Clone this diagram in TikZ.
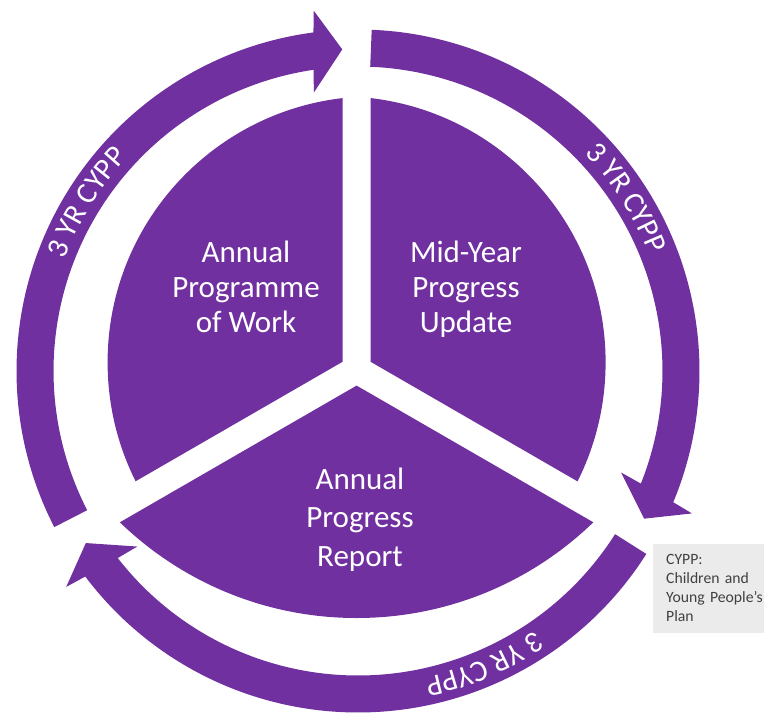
\documentclass[tikz,border=0pt]{standalone}
\usepackage{fontspec}
\newfontfamily\carl{Carlito}
\usetikzlibrary{decorations.text}
\definecolor{cpurple}{HTML}{7030A0}
\definecolor{boxgray}{HTML}{EBEBEB}
\definecolor{boxtext}{HTML}{404040}
\begin{document}
\begin{tikzpicture}[x=1pt,y=-1pt,
  sectortext/.style={text=white, align=center, font=\carl\fontsize{31}{35}\selectfont},
  ringband/.style={fill=cpurple},
  sectorfill/.style={fill=cpurple},
  ringtext/.style={decorate, decoration={text along path, text align=center, text color=white,
      text={|\carl\fontsize{30}{30}\selectfont|3 YR CYPP}}},
  notebox/.style={fill=boxgray, anchor=north west, text=boxtext, align=left,
      text width=100pt, inner xsep=13pt, inner ysep=10.5pt, font=\carl\fontsize{15.7}{19}\selectfont}
]
\useasboundingbox (0,0) rectangle (764,713);

% --- pie sectors ---
\begin{scope}
  \clip (342.7,361.7) -- (342.7,-50) -- (-50,-50) -- (-50,588.4) -- cycle;
  \fill[sectorfill] (373.6,362.3) circle[radius=266];
\end{scope}
\begin{scope}
  \clip (370.5,361.7) -- (370.5,-50) -- (814,-50) -- (814,618.0) -- cycle;
  \fill[sectorfill] (339.6,362.3) circle[radius=266];
\end{scope}
\begin{scope}
  \clip (356.6,385.6) -- (-50,620.4) -- (-50,800) -- (814,800) -- (814,649.7) -- cycle;
  \fill[sectorfill] (356.6,277.4) circle[radius=340.6];
\end{scope}

% --- ring arrows ---
\begin{scope}[shift={(358,371)}]
  \fill[ringband] (152.8:341.5) arc[start angle=152.8, end angle=262.5, radius=341.5]
     -- (263:363) -- (267.2:322) -- (261:282) -- (261.6:304.5)
     arc[start angle=261.6, end angle=152.8, radius=304.5] -- cycle;
  \fill[ringband] (272.3:341.5) arc[start angle=272.3, end angle=382.6, radius=341.5]
     -- (383.1:363) -- (387.3:322) -- (381.1:282) -- (381.7:304.5)
     arc[start angle=381.7, end angle=272.3, radius=304.5] -- cycle;
  \fill[ringband] (32.4:341.5) arc[start angle=32.4, end angle=143, radius=341.5]
     -- (143.5:363) -- (147.7:322) -- (141.5:282) -- (142.1:304.5)
     arc[start angle=142.1, end angle=32.4, radius=304.5] -- cycle;

  \path[ringtext] (171.8:314) arc[start angle=171.8, end angle=251.8, radius=314];
  \path[ringtext] (287.2:314) arc[start angle=287.2, end angle=367.2, radius=314];
  \path[ringtext] (26.7:314) arc[start angle=26.7, end angle=106.7, radius=314];
\end{scope}

% --- sector labels ---
\node[sectortext] (apw) at (246,287) {Annual\\Programme\\of Work};
\node[sectortext] (myu) at (466,289) {Mid-Year\\Progress\\Update};
\node[sectortext, font=\carl\fontsize{31}{38.3}\selectfont] (apr) at (360,519.5) {Annual\\Progress\\Report};

% --- note box ---
\node[notebox] (note) at (653,544) {CYPP:\\Children and\\Young People’s\\Plan};
\end{tikzpicture}
\end{document}
